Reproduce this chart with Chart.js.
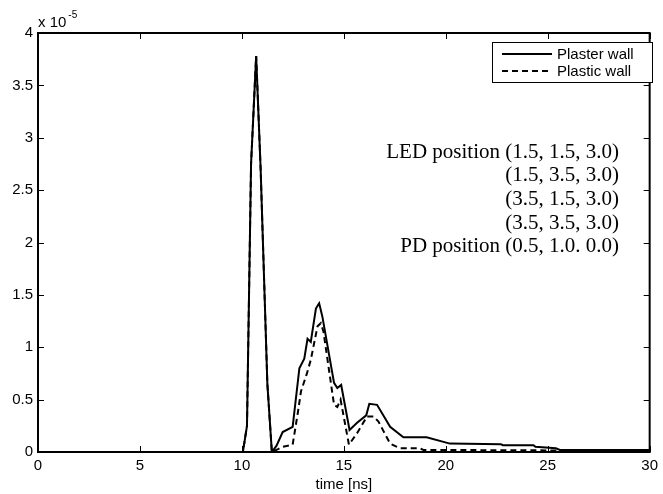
<!DOCTYPE html>
<html>
<head>
<meta charset="utf-8">
<script src="https://cdn.jsdelivr.net/npm/chart.js@4/dist/chart.umd.min.js"></script>
<style>
  html, body { margin: 0; padding: 0; background: #fff; }
  canvas { display: block; }
</style>
</head>
<body>
<canvas id="cir" width="663" height="494"></canvas>
<script>
'use strict';

// values in units of 1e-5
var plasterT = [0, 10.05, 10.25, 10.45, 10.7, 10.92, 11.25, 11.47, 11.7, 12.0, 12.49, 12.82, 13.06, 13.22, 13.38, 13.63, 13.79, 13.95, 14.52, 14.68, 14.87, 15.28, 15.65, 16.1, 16.25, 16.63, 17.27, 17.92, 19.06, 20.2, 22.7, 22.8, 24.3, 24.4, 25.4, 25.6, 30];
var plasterV = [0, 0, 0.25, 2.75, 3.78, 2.7, 0.65, 0, 0.06, 0.19, 0.24, 0.80, 0.89, 1.08, 1.05, 1.37, 1.42, 1.29, 0.66, 0.61, 0.64, 0.21, 0.28, 0.35, 0.46, 0.45, 0.24, 0.14, 0.14, 0.08, 0.075, 0.065, 0.065, 0.05, 0.035, 0.02, 0.02];

var plasticT = [0, 10.05, 10.25, 10.45, 10.7, 10.92, 11.25, 11.47, 11.8, 12.0, 12.49, 12.74, 12.9, 13.19, 13.38, 13.71, 13.87, 14.0, 14.52, 14.68, 14.84, 15.25, 15.65, 16.14, 16.46, 16.7, 17.27, 17.76, 18.73, 18.9, 25.5, 26, 30];
var plasticV = [0, 0, 0.25, 2.75, 3.78, 2.7, 0.65, 0, 0.03, 0.05, 0.07, 0.37, 0.58, 0.75, 0.88, 1.20, 1.23, 1.15, 0.45, 0.43, 0.50, 0.07, 0.18, 0.34, 0.34, 0.29, 0.08, 0.035, 0.035, 0.02, 0.015, 0.005, 0.005];

var seriesNames = ['Plaster wall', 'Plastic wall'];
var xTicks = [0, 5, 10, 15, 20, 25, 30];
var yTicks = [0, 0.5, 1, 1.5, 2, 2.5, 3, 3.5, 4];
var noteLines = [
    'LED position (1.5, 1.5, 3.0)',
    '(1.5, 3.5, 3.0)',
    '(3.5, 1.5, 3.0)',
    '(3.5, 3.5, 3.0)',
    'PD position (0.5, 1.0. 0.0)'
];

var toPoints = function(ts, vs) {
    var pts = [];
    for (var i = 0; i < ts.length; i++) {
        pts.push({x: ts[i], y: vs[i]});
    }
    return pts;
};

var sansFont = '"Liberation Sans", Arial, sans-serif';
var serifFont = '"Liberation Serif", "Times New Roman", serif';

// matlab style box, inward ticks, legend and the text block
var matlabBox = {
    id: 'matlabBox',
    afterDraw: function(chart) {
        var ctx = chart.ctx;
        var a = chart.chartArea;
        var xs = chart.scales.x;
        var ys = chart.scales.y;
        ctx.save();
        ctx.strokeStyle = '#000';
        ctx.lineWidth = 1;
        ctx.setLineDash([]);
        ctx.beginPath();
        xTicks.forEach(function(t) {
            var px = Math.round(xs.getPixelForValue(t)) + 0.5;
            ctx.moveTo(px, a.bottom); ctx.lineTo(px, a.bottom - 6);
            ctx.moveTo(px, a.top); ctx.lineTo(px, a.top + 6);
        });
        yTicks.forEach(function(t) {
            var py = Math.round(ys.getPixelForValue(t)) + 0.5;
            ctx.moveTo(a.left, py); ctx.lineTo(a.left + 6, py);
            ctx.moveTo(a.right, py); ctx.lineTo(a.right - 6, py);
        });
        ctx.stroke();
        ctx.lineWidth = 2;
        ctx.strokeRect(a.left, a.top, a.right - a.left, a.bottom - a.top);

        // exponent label
        ctx.fillStyle = '#000';
        ctx.textBaseline = 'alphabetic';
        ctx.textAlign = 'left';
        ctx.font = '15px ' + sansFont;
        ctx.fillText('x 10', a.left, a.top - 6);
        var w = ctx.measureText('x 10').width;
        ctx.font = '10px ' + sansFont;
        ctx.fillText('-5', a.left + w + 2, a.top - 15);

        // legend
        var lx = 492, ly = 42, lw = 160, lh = 40;
        ctx.fillStyle = '#fff';
        ctx.fillRect(lx, ly, lw, lh);
        ctx.lineWidth = 1;
        ctx.strokeRect(lx + 0.5, ly + 0.5, lw, lh);
        chart.data.datasets.forEach(function(ds, i) {
            var yy = ly + 12 + i * 17;
            ctx.strokeStyle = ds.borderColor;
            ctx.lineWidth = ds.borderWidth;
            ctx.setLineDash(ds.borderDash || []);
            ctx.beginPath();
            ctx.moveTo(502, yy); ctx.lineTo(552, yy);
            ctx.stroke();
            ctx.setLineDash([]);
            ctx.fillStyle = '#000';
            ctx.font = '15px ' + sansFont;
            ctx.textBaseline = 'middle';
            ctx.fillText(ds.label, 557, yy + 1);
        });

        // notes
        ctx.font = '21px ' + serifFont;
        ctx.textAlign = 'right';
        ctx.textBaseline = 'middle';
        noteLines.forEach(function(s, i) {
            ctx.fillText(s, 619, 152 + i * 23.7);
        });
        ctx.restore();
    }
};

var ctx = document.getElementById('cir').getContext('2d');

var cirChart = new Chart(ctx, {
    type: 'line',
    data: {
        datasets: [
            {
                label: seriesNames[0],
                data: toPoints(plasterT, plasterV),
                borderColor: '#000',
                borderWidth: 2,
                pointRadius: 0,
                fill: false,
                tension: 0
            },
            {
                label: seriesNames[1],
                data: toPoints(plasticT, plasticV),
                borderColor: '#000',
                borderWidth: 2,
                borderDash: [6, 4],
                pointRadius: 0,
                fill: false,
                tension: 0
            }
        ]
    },
    options: {
        responsive: false,
        animation: false,
        layout: { padding: { left: 0, right: 8, top: 33, bottom: 0 } },
        plugins: { legend: { display: false }, tooltip: { enabled: false } },
        scales: {
            x: {
                type: 'linear',
                min: 0,
                max: 30,
                afterBuildTicks: function(scale) {
                    scale.ticks = xTicks.map(function(v) { return {value: v}; });
                },
                afterFit: function(scale) { scale.height = 42; },
                grid: { display: false, drawTicks: false },
                border: { display: false },
                ticks: {
                    color: '#000',
                    padding: 5,
                    maxRotation: 0,
                    font: { family: sansFont, size: 15 },
                    callback: function(v) { return String(v); }
                },
                title: {
                    display: true,
                    text: 'time [ns]',
                    color: '#000',
                    padding: { top: 0, bottom: 0 },
                    font: { family: sansFont, size: 15 }
                }
            },
            y: {
                type: 'linear',
                min: 0,
                max: 4,
                afterBuildTicks: function(scale) {
                    scale.ticks = yTicks.map(function(v) { return {value: v}; });
                },
                afterFit: function(scale) { scale.width = 38; },
                grid: { display: false, drawTicks: false },
                border: { display: false },
                ticks: {
                    color: '#000',
                    padding: 5,
                    font: { family: sansFont, size: 15 },
                    callback: function(v) { return String(v); }
                }
            }
        }
    },
    plugins: [matlabBox]
});
</script>
</body>
</html>
